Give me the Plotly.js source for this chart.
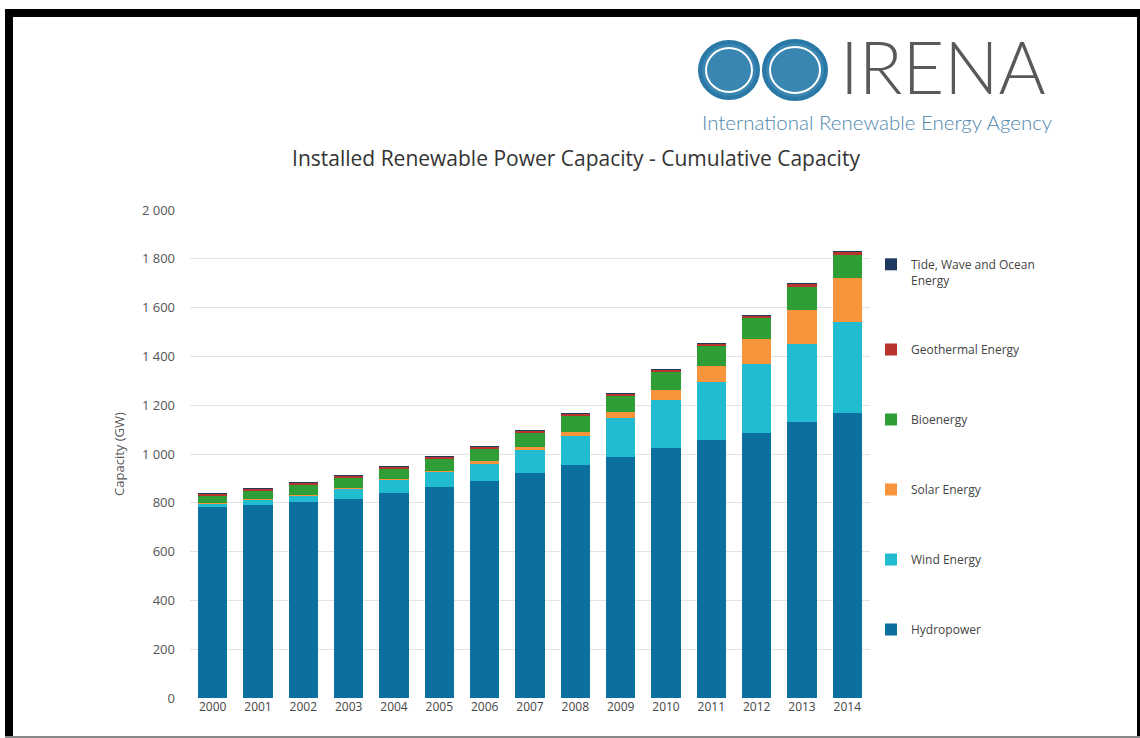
<!DOCTYPE html>
<html>
<head>
<meta charset="utf-8">
<script src="https://cdn.plot.ly/plotly-3.0.1.min.js"></script>
<style>
  html, body { margin: 0; padding: 0; background: #ffffff; }
  #wrap { position: relative; width: 1140px; height: 738px; overflow: hidden; }
  #chart { position: absolute; left: 0; top: 0; width: 1140px; height: 738px; }
  .frame { position: absolute; pointer-events: none; }
</style>
</head>
<body>
<div id="wrap">
  <div id="chart"></div>
  <div class="frame" style="left:5px;top:9px;width:1135px;height:8px;background:#000;"></div>
  <div class="frame" style="left:5px;top:9px;width:8px;height:729px;background:#000;"></div>
  <div class="frame" style="left:1137px;top:9px;width:3px;height:729px;background:#000;"></div>
  <div class="frame" style="left:5px;top:736px;width:1135px;height:2px;background:#888;"></div>
</div>
<script>
// ---- data (GW) ----
const years = ['2000','2001','2002','2003','2004','2005','2006','2007','2008','2009','2010','2011','2012','2013','2014'];
const hydropower = [781, 790, 803, 817, 841, 866, 891, 921, 955, 989, 1023, 1056, 1087, 1131, 1167];
const windEnergy = [17, 23, 28, 42, 55, 62, 71, 95, 119, 157, 198, 238, 282, 318, 375];
const solarEnergy = [1, 1, 3, 2, 2, 3, 8, 11, 17, 26, 41, 68, 104, 141, 178];
const bioenergy = [30, 34, 40, 41, 41, 48, 50, 62, 66, 67, 74, 79, 86, 96, 96];
const geothermal = [9, 9, 9, 10, 10, 10, 12, 6, 8, 10, 11, 13, 9, 11, 12];
const tideWaveOcean = [0.5, 0.5, 0.5, 0.5, 0.5, 0.5, 0.5, 0.5, 0.5, 0.5, 0.5, 0.5, 0.5, 0.5, 0.5];
const seriesNames = ['Hydropower', 'Wind Energy', 'Solar Energy', 'Bioenergy', 'Geothermal Energy', 'Tide, Wave and Ocean<br>Energy'];
const yTicks = [0, 200, 400, 600, 800, 1000, 1200, 1400, 1600, 1800, 2000];

const seriesValues = [hydropower, windEnergy, solarEnergy, bioenergy, geothermal, tideWaveOcean];
const seriesColors = ['#0b6fa0', '#22bcd1', '#f7943c', '#2f9e36', '#b8352d', '#1e3a5f'];

const traces = seriesValues.map((vals, i) => ({
  type: 'bar',
  name: seriesNames[i],
  x: years,
  y: vals,
  legendgroup: 'g' + i,
  legendrank: 1000 - i,
  marker: { color: seriesColors[i], line: { width: 0 } },
  hoverinfo: 'x+y+name'
}));

const PW = 1140, PH = 738;
const L = 190, R = 270, T = 210, B = 40;
const px = v => (v - L) / (PW - L - R);
const py = v => (PH - B - v) / (PH - T - B);

const layout = {
  width: PW, height: PH,
  margin: { l: L, r: R, t: T, b: B },
  paper_bgcolor: 'rgba(0,0,0,0)',
  plot_bgcolor: '#ffffff',
  barmode: 'stack',
  bargap: 0.35,
  separators: '. ',
  font: { family: 'Open Sans, sans-serif', color: '#555555', size: 12 },
  title: {
    text: 'Installed Renewable Power Capacity - Cumulative Capacity',
    font: { family: 'Open Sans, sans-serif', size: 21, color: '#333333' },
    x: 576 / PW, xanchor: 'center', xref: 'container',
    y: 1 - 159 / PH, yanchor: 'middle', yref: 'container'
  },
  xaxis: {
    type: 'category',
    tickvals: years,
    ticktext: years,
    showgrid: false,
    showline: false,
    zeroline: false,
    ticks: '',
    tickfont: { size: 12, color: '#444444' }
  },
  yaxis: {
    range: [0, 2000],
    tickvals: yTicks,
    separatethousands: true,
    tickformat: ',d',
    showgrid: true,
    gridcolor: '#e3e3e3',
    gridwidth: 1,
    zeroline: false,
    showline: false,
    ticks: '',
    ticklabelstandoff: 14,
    tickfont: { size: 13, color: '#555555' },
    title: { text: 'Capacity (GW)', font: { size: 13, color: '#555555' }, standoff: 14 }
  },
  showlegend: true,
  legend: {
    x: px(871), xanchor: 'left',
    y: py(250), yanchor: 'top',
    traceorder: 'grouped',
    tracegroupgap: 51,
    valign: 'top',
    itemwidth: 30,
    font: { size: 12, color: '#444444' },
    bgcolor: 'rgba(0,0,0,0)'
  },
  shapes: [
    { type: 'circle', xref: 'paper', yref: 'paper', x0: px(700), x1: px(758), y0: py(98), y1: py(42), line: { color: '#2a78a6', width: 4 }, fillcolor: '#3a86b3' },
    { type: 'circle', xref: 'paper', yref: 'paper', x0: px(764), x1: px(826), y0: py(99), y1: py(41), line: { color: '#2a78a6', width: 4 }, fillcolor: '#3a86b3' },
    { type: 'circle', xref: 'paper', yref: 'paper', x0: px(706), x1: px(752), y0: py(92), y1: py(48), line: { color: '#ffffff', width: 2 }, fillcolor: 'rgba(0,0,0,0)' },
    { type: 'circle', xref: 'paper', yref: 'paper', x0: px(770), x1: px(820), y0: py(93), y1: py(47), line: { color: '#ffffff', width: 2 }, fillcolor: 'rgba(0,0,0,0)' }
  ],
  annotations: [
    { xref: 'paper', yref: 'paper', x: px(838), y: py(66), xanchor: 'left', yanchor: 'middle', showarrow: false,
      text: 'IRENA', font: { family: 'Lato, Open Sans, sans-serif', size: 72, color: '#58595b', weight: 300 } },
    { xref: 'paper', yref: 'paper', x: px(700), y: py(122), xanchor: 'left', yanchor: 'middle', showarrow: false,
      text: 'International Renewable Energy Agency', font: { family: 'Lato, Open Sans, sans-serif', size: 20.5, color: '#4f87ad', weight: 300 } }
  ]
};

Plotly.newPlot('chart', traces, layout, { displayModeBar: false, responsive: false });
</script>
</body>
</html>
